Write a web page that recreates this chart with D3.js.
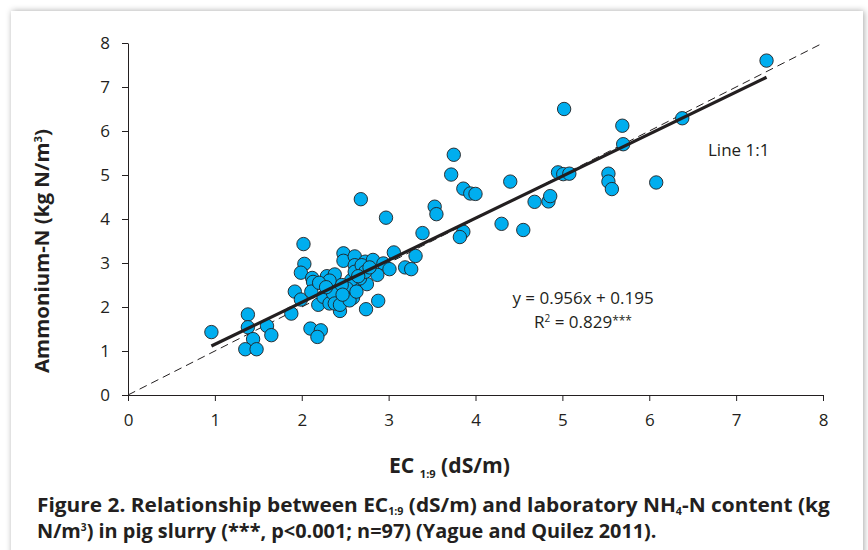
<!DOCTYPE html>
<html>
<head>
<meta charset="utf-8">
<script src="https://cdn.jsdelivr.net/npm/d3@7"></script>
<style>
  body { margin: 0; background: #fff; }
  svg { display: block; font-family: "Open Sans", "Noto Sans", sans-serif; }
</style>
</head>
<body>
<svg id="chart" width="868" height="550"></svg>
<script>
// EC 1:9 (dS/m) vs ammonium-N (kg N/m3)
const ecValues = [
  0.96, 1.38, 1.38, 1.44, 1.35, 1.48, 1.60, 1.65, 1.88, 1.92,
  1.99, 2.02, 2.03, 1.99, 2.10, 2.22, 2.18, 2.12, 2.13, 2.11,
  2.19, 2.29, 2.38, 2.25, 2.32, 2.40, 2.44, 2.42, 2.48, 2.48,
  2.61, 2.61, 2.73, 2.82, 2.94, 3.06, 3.01, 3.19, 3.26, 3.31,
  2.87, 2.75, 2.67, 2.59, 2.59, 2.54, 2.50, 2.74, 2.88, 2.68,
  2.97, 3.39, 3.53, 3.55, 3.75, 3.72, 3.86, 3.94, 4.00, 3.86,
  3.82, 4.30, 4.40, 4.55, 4.68, 4.84, 4.86, 4.95, 5.01, 5.08,
  5.02, 5.53, 5.53, 5.57, 5.69, 5.70, 6.08, 6.38, 7.35, 2.36,
  2.57, 2.61, 2.69, 2.73, 2.52, 2.38, 2.44, 2.59, 2.46, 2.55,
  2.65, 2.32, 2.20, 2.78, 2.47, 2.63, 2.28
];
const nh4Values = [
  1.43, 1.83, 1.54, 1.27, 1.04, 1.04, 1.57, 1.36, 1.85, 2.35,
  2.17, 3.43, 2.98, 2.78, 1.51, 1.47, 1.32, 2.66, 2.57, 2.35,
  2.05, 2.70, 2.74, 2.23, 2.08, 2.31, 1.91, 2.16, 3.22, 3.05,
  3.15, 2.95, 3.03, 3.07, 2.99, 3.24, 2.86, 2.90, 2.86, 3.16,
  2.73, 2.52, 2.65, 2.44, 2.27, 2.35, 2.23, 1.95, 2.14, 4.45,
  4.03, 3.68, 4.28, 4.11, 5.46, 5.01, 4.69, 4.58, 4.57, 3.71,
  3.59, 3.89, 4.85, 3.75, 4.39, 4.40, 4.52, 5.06, 5.02, 5.03,
  6.50, 5.03, 4.85, 4.68, 6.12, 5.70, 4.83, 6.29, 7.60, 2.31,
  2.61, 2.80, 2.95, 2.80, 2.42, 2.08, 2.05, 2.21, 2.50, 2.15,
  2.70, 2.60, 2.55, 2.90, 2.28, 2.35, 2.45
];

const xTicks = [0, 1, 2, 3, 4, 5, 6, 7, 8];
const yTicks = [0, 1, 2, 3, 4, 5, 6, 7, 8];

// regression y = 0.956x + 0.195, drawn over the range of the data
const fitSlope = 0.956;
const fitIntercept = 0.195;
const fitRange = [0.96, 7.35];
const identityRange = [0, 8];

const ink = "#231f20";
const dotFill = "#00aeef";

const svg = d3.select("#chart");
const points = ecValues.map((d, i) => ({ ec: d, nh4: nh4Values[i] }));

const x = d3.scaleLinear().domain([0, 8]).range([128, 823]);
const y = d3.scaleLinear().domain([0, 8]).range([395, 43]);

// frame with soft shadow
const defs = svg.append("defs");
const shadow = defs.append("filter")
  .attr("id", "shadow")
  .attr("x", "-5%").attr("y", "-5%")
  .attr("width", "110%").attr("height", "110%");
shadow.append("feDropShadow")
  .attr("dx", 1).attr("dy", 0)
  .attr("stdDeviation", 3)
  .attr("flood-color", "#000")
  .attr("flood-opacity", 0.35);

svg.append("rect")
  .attr("x", 11).attr("y", 11)
  .attr("width", 852).attr("height", 580)
  .attr("fill", "#fff")
  .attr("filter", "url(#shadow)");

// axes
const yAxis = svg.append("g")
  .attr("transform", `translate(${x(0)},0)`)
  .call(d3.axisLeft(y).tickValues(yTicks).tickSize(6).tickSizeOuter(0).tickPadding(12));

const xAxis = svg.append("g")
  .attr("transform", `translate(0,${y(0)})`)
  .call(d3.axisBottom(x).tickValues(xTicks).tickSize(6).tickSizeOuter(0).tickPadding(13));

[xAxis, yAxis].forEach(a => {
  a.selectAll("path, line").attr("stroke", ink).attr("stroke-width", 1);
  a.selectAll("text")
    .attr("fill", ink)
    .attr("font-size", "17px")
    .attr("font-family", "'Open Sans', sans-serif");
});

// 1:1 line
svg.append("line")
  .attr("x1", x(identityRange[0])).attr("y1", y(identityRange[0]))
  .attr("x2", x(identityRange[1])).attr("y2", y(identityRange[1]))
  .attr("stroke", ink)
  .attr("stroke-width", 1)
  .attr("stroke-dasharray", "8,5");

// points
svg.append("g")
  .selectAll("circle")
  .data(points)
  .enter()
  .append("circle")
  .attr("cx", d => x(d.ec))
  .attr("cy", d => y(d.nh4))
  .attr("r", 6.7)
  .attr("fill", dotFill)
  .attr("stroke", ink)
  .attr("stroke-width", 0.9);

// regression line
svg.append("line")
  .attr("x1", x(fitRange[0])).attr("y1", y(fitSlope * fitRange[0] + fitIntercept))
  .attr("x2", x(fitRange[1])).attr("y2", y(fitSlope * fitRange[1] + fitIntercept))
  .attr("stroke", ink)
  .attr("stroke-width", 3.2);

// annotations
svg.append("text")
  .attr("x", 708).attr("y", 156)
  .attr("font-size", "17px")
  .attr("fill", ink)
  .text("Line 1:1");

svg.append("text")
  .attr("x", 583).attr("y", 304)
  .attr("text-anchor", "middle")
  .attr("font-size", "17px")
  .attr("fill", ink)
  .text("y = 0.956x + 0.195");

const r2 = svg.append("text")
  .attr("x", 583).attr("y", 328)
  .attr("text-anchor", "middle")
  .attr("font-size", "17px")
  .attr("fill", ink);
r2.append("tspan").text("R");
r2.append("tspan").attr("font-size", "10px").attr("dy", -6).text("2");
r2.append("tspan").attr("dy", 6).text(" = 0.829");
r2.append("tspan").attr("font-size", "12px").attr("dy", -3).text("***");

// squeeze a text group to a target width (source font is narrower than what we have)
function fitWidth(g, x0, y0, targetWidth, anchor) {
  const w = g.node().getBBox().width;
  const k = targetWidth / w;
  const shift = anchor === "middle" ? -targetWidth / 2 : 0;
  g.attr("transform", `translate(${x0 + shift},${y0}) scale(${k},1)`);
}

// x axis title
const xTitleG = svg.append("g");
const xTitle = xTitleG.append("text")
  .attr("font-size", "21px")
  .attr("font-weight", "bold")
  .attr("fill", ink);
xTitle.append("tspan").text("EC ");
xTitle.append("tspan").attr("font-size", "11px").attr("dy", 5).text("1:9");
xTitle.append("tspan").attr("dy", -5).text(" (dS/m)");
fitWidth(xTitleG, 389, 473, 121, "start");

// y axis title
const yTitleOuter = svg.append("g").attr("transform", "translate(49,251) rotate(-90)");
const yTitleG = yTitleOuter.append("g");
const yTitle = yTitleG.append("text")
  .attr("font-size", "20px")
  .attr("font-weight", "bold")
  .attr("fill", ink);
yTitle.append("tspan").text("Ammonium-N (kg N/m");
yTitle.append("tspan").attr("font-size", "11px").attr("dy", -7).text("3");
yTitle.append("tspan").attr("dy", 7).text(")");
fitWidth(yTitleG, 0, 0, 244, "middle");

// caption
const cap1G = svg.append("g");
const cap1 = cap1G.append("text")
  .attr("font-size", "19.5px")
  .attr("font-weight", "bold")
  .attr("fill", ink);
cap1.append("tspan").text("Figure 2. Relationship between EC");
cap1.append("tspan").attr("font-size", "10px").attr("dy", 3).text("1:9");
cap1.append("tspan").attr("dy", -3).text(" (dS/m) and laboratory NH");
cap1.append("tspan").attr("font-size", "10px").attr("dy", 3).text("4");
cap1.append("tspan").attr("dy", -3).text("-N content (kg");
fitWidth(cap1G, 37, 512, 793, "start");

const cap2G = svg.append("g");
const cap2 = cap2G.append("text")
  .attr("font-size", "19.5px")
  .attr("font-weight", "bold")
  .attr("fill", ink);
cap2.append("tspan").text("N/m");
cap2.append("tspan").attr("font-size", "10px").attr("dy", -7).text("3");
cap2.append("tspan").attr("dy", 7).text(") in pig slurry (***, p<0.001; n=97) (Yague and Quilez 2011).");
fitWidth(cap2G, 37, 538, 620, "start");
</script>
</body>
</html>
